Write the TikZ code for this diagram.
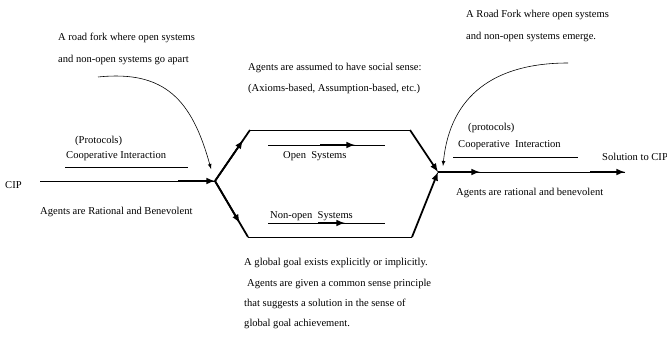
\documentclass[tikz,border=0pt]{standalone}
\usepackage{fontspec}
\setmainfont{Liberation Serif}
\usetikzlibrary{calc,arrows}

\begin{document}
\begin{tikzpicture}[x=0.03cm,y=-0.03cm,
    lbl/.style={font=\fontsize{9}{10}\selectfont,inner sep=0pt,anchor=base west},
    road/.style={line width=0.7pt},
    heavy/.style={line width=1.5pt},
    pointer/.style={line width=0.5pt,-latex}]
  \useasboundingbox (0,0) rectangle (667,339);
  % road points
  \coordinate (start) at (40,181);
  \coordinate (lheavy) at (178,181);
  \coordinate (lfork) at (215,181);
  \coordinate (ltop) at (250,130);
  \coordinate (lbot) at (248,237);
  \coordinate (rtop) at (410,130);
  \coordinate (rbot) at (412,237);
  \coordinate (rfork) at (438,172);
  \coordinate (rmid) at (480,172);
  \coordinate (rheavy) at (590,172);
  \coordinate (sol) at (625,172);
  % labels
  \node[lbl] (cip) at (5,188) {CIP};
  \node[lbl] (fork1a) at (58,41) {A road fork where open systems};
  \node[lbl] (fork1b) at (58,63) {and non-open systems go apart};
  \node[lbl] (prot1) at (75,143) {(Protocols)};
  \node[lbl] (coop1) at (66,158) {Cooperative Interaction};
  \node[lbl] (agent1) at (40,214) {Agents are Rational and Benevolent};
  \node[lbl] (social1) at (248,71) {Agents are assumed to have social sense:};
  \node[lbl] (social2) at (248,92) {(Axioms-based, Assumption-based, etc.)};
  \node[lbl] (open) at (283,158) {Open\ \ Systems};
  \node[lbl] (nonopen) at (270,218) {Non-open\ \ Systems};
  \node[lbl] (goal1) at (244,265) {A global goal exists explicitly or implicitly.};
  \node[lbl] (goal2) at (247,286) {Agents are given a common sense principle};
  \node[lbl] (goal3) at (244,306) {that suggests a solution in the sense of};
  \node[lbl] (goal4) at (244,326) {global goal achievement.};
  \node[lbl] (fork2a) at (466,18) {A Road Fork where open systems};
  \node[lbl] (fork2b) at (466,40) {and non-open systems emerge.};
  \node[lbl] (prot2) at (468,131) {(protocols)};
  \node[lbl] (coop2) at (458,148) {Cooperative\ \ Interaction};
  \node[lbl] (solution) at (602,160) {Solution to CIP};
  \node[lbl] (agent2) at (456,195) {Agents are rational and benevolent};
  % left road
  \draw[road] (start) -- (lfork);
  \draw[heavy,-latex] (lheavy) -- (lfork);
  \draw[road] (65,167) coordinate (u1a) -- (188,167) coordinate (u1b);
  % the two systems
  \draw[heavy] (lfork) -- (ltop);
  \draw[heavy,-latex] (lfork) -- ($(lfork)!0.8!(ltop)$);
  \draw[heavy] (lfork) -- (lbot);
  \draw[heavy,-latex] (lfork) -- ($(lfork)!0.75!(lbot)$);
  \draw[road] (ltop) -- (rtop);
  \draw[road] (lbot) -- (rbot);
  \draw[heavy,-latex] (rtop) -- (rfork);
  \draw[heavy,-latex] (rbot) -- (rfork);
  \draw[road] (268,145) coordinate (o1) -- (385,145) coordinate (o2);
  \draw[heavy,-latex] (320,145) coordinate (o3) -- (355,145) coordinate (o4);
  \draw[road] (268,223) coordinate (n1) -- (385,223) coordinate (n2);
  \draw[heavy,-latex] (318,223) coordinate (n3) -- (345,223) coordinate (n4);
  % right road
  \draw[road] (rfork) -- (sol);
  \draw[heavy,-latex] (rfork) -- (rmid);
  \draw[heavy,-latex] (rheavy) -- (sol);
  \draw[road] (453,157) coordinate (u2a) -- (578,157) coordinate (u2b);
  % pointers to the forks
  \draw[pointer] (98,77) coordinate (p1) .. controls (165,70) and (192,100) .. (211,169) coordinate (p2);
  \draw[pointer] (568,63) coordinate (q1) .. controls (495,63) and (450,95) .. (443,166) coordinate (q2);
\end{tikzpicture}
\end{document}
